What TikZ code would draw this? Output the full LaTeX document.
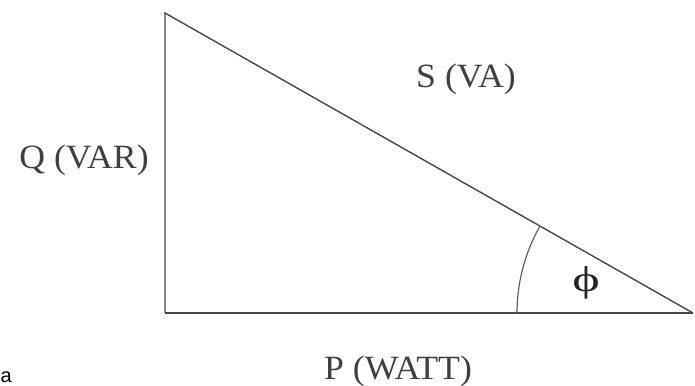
\documentclass[tikz,border=0pt]{standalone}
\usepackage{fontspec}
\setmainfont{Liberation Serif}
\newfontfamily\sansfont{Liberation Sans}
\begin{document}
\begin{tikzpicture}[x=1pt,y=-1pt,
  edge/.style={draw=black!72,line width=1.4pt},
  lab/.style={inner sep=0pt,anchor=base,xscale=1.05,text=black!75,font=\fontsize{34}{34}\selectfont}]
\useasboundingbox (0,0) rectangle (695,385);
\coordinate (A) at (165,13);
\coordinate (B) at (165,313);
\coordinate (C) at (693,313);
\draw[edge] (B) -- (A) -- (C);
\draw[edge,line width=2.6pt] (B) -- (C);
\draw[draw=black!62,line width=1.2pt] (C) ++(209.6:176) arc[start angle=209.6,end angle=180,radius=176];
\node[lab] (s) at (466,88) {S (VA)};
\node[lab] (q) at (84,168) {Q (VAR)};
\node[lab] (p) at (398,379) {P (WATT)};
\node[inner sep=0pt,xscale=1.45,text=black!85,font=\fontsize{36}{36}\selectfont] (phi) at (586,283) {ϕ};
\node[inner sep=0pt,anchor=base west,font=\sansfont\fontsize{20}{20}\selectfont] (a) at (0.5,382) {a};
\end{tikzpicture}
\end{document}
